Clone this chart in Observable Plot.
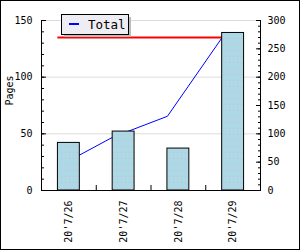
<!DOCTYPE html>
<html><head><meta charset="utf-8">
<script src="https://cdn.jsdelivr.net/npm/d3@7"></script>
<script src="https://cdn.jsdelivr.net/npm/@observablehq/plot@0.6"></script>
<style>body{margin:0;background:#fff} #chart{width:300px;height:250px;position:relative}</style>
</head><body><div id="chart"></div>
<script>
const dates = ["20'7/26", "20'7/27", "20'7/28", "20'7/29"];
const pages = [42, 52, 37, 139];
const totals = [42, 94, 131, 270];
const leftTicks = [0, 50, 100, 150];
const rightTicks = [0, 50, 100, 150, 200, 250, 300];
const seriesName = "Total";
const yTitle = "Pages";

const barFrac = 0.4;
const pad = (1 - barFrac) / 2;
const ratio = leftTicks[leftTicks.length - 1] / rightTicks[rightTicks.length - 1];
const rows = dates.map((d, i) => ({i, date: d, pages: pages[i], total: totals[i]}));
const minorLeft = d3.range(0, 151, 10);
const minorRight = d3.range(0, 301, 10).map(v => v * ratio);
const svgNS = "http://www.w3.org/2000/svg";

const defs = () => {
  const d = document.createElementNS(svgNS, "defs");
  d.innerHTML = `<pattern id="dots" width="4" height="6" patternUnits="userSpaceOnUse">
    <rect width="4" height="6" fill="#add8e6"></rect>
    <rect x="1" y="2" width="1" height="1" fill="#d9b7c2"></rect></pattern>`;
  return d;
};

const plot = Plot.plot({
  width: 300, height: 250,
  marginLeft: 41, marginRight: 40, marginTop: 20, marginBottom: 60,
  style: {fontFamily: "DejaVu Sans Mono", fontSize: "10px", background: "#fff", color: "#000"},
  x: {domain: [0, dates.length], axis: null},
  y: {domain: [0, 150], axis: null},
  marks: [
    defs,
    Plot.ruleY(leftTicks.filter(v => v > 0), {stroke: "#dcdcdc"}),
    Plot.ruleY([d3.max(totals) * ratio], {x1: pad, x2: dates.length - 1 + pad, stroke: "red", strokeWidth: 2}),
    Plot.line(rows, {x: d => d.i + pad, y: d => d.total * ratio, stroke: "blue", strokeWidth: 1}),
    Plot.rectY(rows, {x1: d => d.i + pad, x2: d => d.i + 1 - pad, y: "pages", fill: "url(#dots)", stroke: "black", strokeWidth: 1}),
    Plot.ruleX([0, dates.length], {stroke: "black"}),
    Plot.ruleY([0], {stroke: "black"}),
    Plot.axisY(minorLeft, {anchor: "left", tickSize: 3, dx: 3, tickFormat: () => "", label: null}),
    Plot.axisY(leftTicks, {anchor: "left", tickSize: 5, dx: 5, tickFormat: () => "", label: null}),
    Plot.axisY(leftTicks, {anchor: "left", tickSize: 0, tickPadding: 9, label: null}),
    Plot.text([yTitle], {text: d => d, frameAnchor: "left", rotate: -90, dx: -32, fill: "black", fontSize: 10}),
    Plot.axisY(minorRight, {anchor: "right", tickSize: 3, dx: -3, tickFormat: () => "", label: null}),
    Plot.axisY(rightTicks.map(v => v * ratio), {anchor: "right", tickSize: 5, dx: -5, tickFormat: () => "", label: null}),
    Plot.axisY(rightTicks.map(v => v * ratio), {anchor: "right", tickSize: 0, tickPadding: 7, tickFormat: v => Math.round(v / ratio), label: null}),
    Plot.axisX(d3.range(1, dates.length), {anchor: "bottom", tickSize: 5, dy: -5, tickFormat: () => "", label: null}),
    Plot.axisX(rows.map(d => d.i + 0.5), {anchor: "bottom", tickSize: 0, tickPadding: 10, tickRotate: -90, tickFormat: v => dates[Math.round(v - 0.5)], label: null})
  ]
});
document.getElementById("chart").appendChild(plot);

// legend and outer frame
const svg = d3.select(plot);
const lg = svg.append("g");
lg.append("rect").attr("x", 64).attr("y", 17).attr("width", 67).attr("height", 20).attr("fill", "#bdbdbd");
lg.append("rect").attr("x", 61.5).attr("y", 14.5).attr("width", 67).attr("height", 20).attr("fill", "#eeedf3").attr("stroke", "black");
lg.append("line").attr("x1", 69).attr("x2", 79).attr("y1", 24).attr("y2", 24).attr("stroke", "blue").attr("stroke-width", 2);
lg.append("text").attr("x", 88).attr("y", 28.5).attr("text-anchor", "start").attr("font-size", "12.5px").attr("font-family", "DejaVu Sans Mono").attr("fill", "black").text(seriesName);
svg.append("rect").attr("x", 0.5).attr("y", 0.5).attr("width", 299).attr("height", 249).attr("fill", "none").attr("stroke", "black");
</script>
</body></html>
